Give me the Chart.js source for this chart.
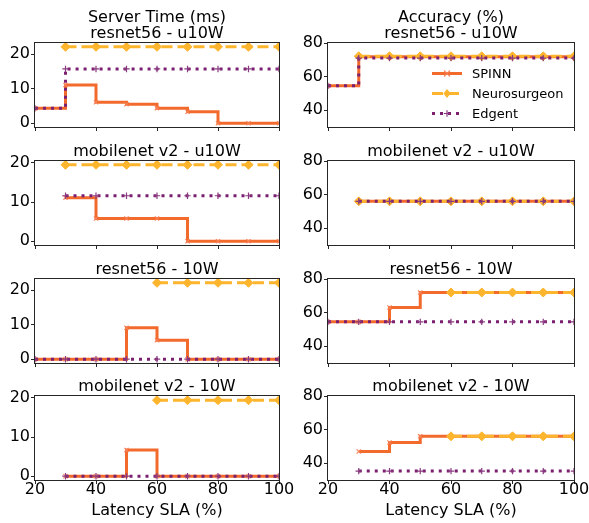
<!DOCTYPE html>
<html>
<head>
<meta charset="utf-8">
<script src="https://cdn.jsdelivr.net/npm/chart.js@4.4.1/dist/chart.umd.min.js"></script>
<style>
html,body{margin:0;padding:0;background:#fff;}
#wrap{position:relative;width:589px;height:523px;overflow:hidden;background:#fff;}
#wrap canvas{position:absolute;}
</style>
</head>
<body>
<div id="wrap"></div>
<script>
// ---------- data ----------
const slaPercent = [20, 30, 40, 50, 60, 70, 80, 90, 100];
const xTickValues = [20, 40, 60, 80, 100];
const serverTimeTicks = [0, 10, 20];
const accuracyTicks = [40, 60, 80];
const seriesNames = ['SPINN', 'Neurosurgeon', 'Edgent'];
const columnTitles = ['Server Time (ms)', 'Accuracy (%)'];
const panelNames = ['resnet56 - u10W', 'mobilenet v2 - u10W', 'resnet56 - 10W', 'mobilenet v2 - 10W'];
const xAxisTitle = 'Latency SLA (%)';

// Server time (ms)
const timeResnet56U10W_SPINN        = [4.3, 11.05, 6.05, 5.5, 4.35, 3.3, 0, 0, 0];
const timeResnet56U10W_Neurosurgeon = [null, 22.1, 22.1, 22.1, 22.1, 22.1, 22.1, 22.1, 22.1];
const timeResnet56U10W_Edgent       = [4.3, 15.7, 15.7, 15.7, 15.7, 15.7, 15.7, 15.7, 15.7];

const timeMobilenetU10W_SPINN        = [null, 11.1, 5.8, 5.8, 5.8, 0, 0, 0, 0];
const timeMobilenetU10W_Neurosurgeon = [null, 19.5, 19.5, 19.5, 19.5, 19.5, 19.5, 19.5, 19.5];
const timeMobilenetU10W_Edgent       = [null, 11.6, 11.6, 11.6, 11.6, 11.6, 11.6, 11.6, 11.6];

const timeResnet5610W_SPINN        = [0, 0, 0, 9.1, 5.5, 0, 0, 0, 0];
const timeResnet5610W_Neurosurgeon = [null, null, null, null, 22.1, 22.1, 22.1, 22.1, 22.1];
const timeResnet5610W_Edgent       = [0, 0, 0, 0, 0, 0, 0, 0, 0];

const timeMobilenet10W_SPINN        = [null, 0, 0, 6.7, 0, 0, 0, 0, 0];
const timeMobilenet10W_Neurosurgeon = [null, null, null, null, 19.4, 19.4, 19.4, 19.4, 19.4];
const timeMobilenet10W_Edgent       = [null, 0, 0, 0, 0, 0, 0, 0, 0];

// Accuracy (%)
const accResnet56U10W_SPINN        = [54.5, 71.8, 71.8, 71.8, 71.8, 71.8, 71.8, 71.8, 71.8];
const accResnet56U10W_Neurosurgeon = [null, 72.1, 72.1, 72.1, 72.1, 72.1, 72.1, 72.1, 72.1];
const accResnet56U10W_Edgent       = [54.5, 71.0, 71.0, 71.0, 71.0, 71.0, 71.0, 71.0, 71.0];

const accMobilenetU10W_SPINN        = [null, 56, 56, 56, 56, 56, 56, 56, 56];
const accMobilenetU10W_Neurosurgeon = [null, 56, 56, 56, 56, 56, 56, 56, 56];
const accMobilenetU10W_Edgent       = [null, 56, 56, 56, 56, 56, 56, 56, 56];

const accResnet5610W_SPINN        = [54.5, 54.5, 63, 72, 72, 72, 72, 72, 72];
const accResnet5610W_Neurosurgeon = [null, null, null, null, 72, 72, 72, 72, 72];
const accResnet5610W_Edgent       = [54.5, 54.5, 54.5, 54.5, 54.5, 54.5, 54.5, 54.5, 54.5];

const accMobilenet10W_SPINN        = [null, 47, 52.3, 56, 56, 56, 56, 56, 56];
const accMobilenet10W_Neurosurgeon = [null, null, null, null, 56, 56, 56, 56, 56];
const accMobilenet10W_Edgent       = [null, 35.3, 35.3, 35.3, 35.3, 35.3, 35.3, 35.3, 35.3];

const timeSeries = [
  [timeResnet56U10W_SPINN, timeResnet56U10W_Neurosurgeon, timeResnet56U10W_Edgent],
  [timeMobilenetU10W_SPINN, timeMobilenetU10W_Neurosurgeon, timeMobilenetU10W_Edgent],
  [timeResnet5610W_SPINN, timeResnet5610W_Neurosurgeon, timeResnet5610W_Edgent],
  [timeMobilenet10W_SPINN, timeMobilenet10W_Neurosurgeon, timeMobilenet10W_Edgent]
];
const accSeries = [
  [accResnet56U10W_SPINN, accResnet56U10W_Neurosurgeon, accResnet56U10W_Edgent],
  [accMobilenetU10W_SPINN, accMobilenetU10W_Neurosurgeon, accMobilenetU10W_Edgent],
  [accResnet5610W_SPINN, accResnet5610W_Neurosurgeon, accResnet5610W_Edgent],
  [accMobilenet10W_SPINN, accMobilenet10W_Neurosurgeon, accMobilenet10W_Edgent]
];

// ---------- styles / layout ----------
const FONT = 'DejaVu Sans';
Chart.defaults.font.family = FONT;
Chart.defaults.color = '#000';

const COLORS = ['#f26a2c', '#fdb52d', '#7b1f70'];
const MARKER_COLORS = ['rgba(247,130,90,0.95)', '#fdb52d', '#8a3a80'];
const STYLES = [
  {dash: [], width: 3, point: 'crossRot', radius: 3, pbw: 1.2, order: 2},
  {dash: [11, 5], width: 3, point: 'rectRot', radius: 4.5, pbw: 1, order: 1},
  {dash: [3, 5], width: 3, point: 'cross', radius: 3.2, pbw: 1.2, order: 0}
];

const chartTops = [43, 161, 279, 396];
const chartBottoms = [127, 245, 363, 480];
const canvasTops = [0, 135, 253, 371];
const canvasHeights = [141, 124, 124, 152];
const colLeft = [0, 295];
const colYAxisW = [35, 33];
const CANVAS_W = 295;
const PAD_RIGHT = 16;
const TITLE_LH = 16;

// ---------- plugins ----------
const frame = {
  id: 'frame',
  afterDatasetsDraw(chart) {
    const {ctx, chartArea: a} = chart;
    ctx.save();
    ctx.strokeStyle = '#262626';
    ctx.lineWidth = 1;
    ctx.setLineDash([]);
    ctx.strokeRect(Math.round(a.left) - 0.5, Math.round(a.top) - 0.5, Math.round(a.right - a.left) + 1, Math.round(a.bottom - a.top) + 1);
    ctx.restore();
  }
};

function drawMarker(ctx, style, x, y, r, color, bw) {
  ctx.save();
  ctx.setLineDash([]);
  ctx.strokeStyle = color;
  ctx.fillStyle = color;
  ctx.lineWidth = bw;
  ctx.beginPath();
  if (style === 'rectRot') {
    ctx.moveTo(x, y - r); ctx.lineTo(x + r * 0.8, y); ctx.lineTo(x, y + r); ctx.lineTo(x - r * 0.8, y); ctx.closePath();
    ctx.fill();
  } else if (style === 'crossRot') {
    ctx.moveTo(x - r, y - r); ctx.lineTo(x + r, y + r); ctx.moveTo(x - r, y + r); ctx.lineTo(x + r, y - r);
    ctx.stroke();
  } else {
    ctx.moveTo(x - r, y); ctx.lineTo(x + r, y); ctx.moveTo(x, y - r); ctx.lineTo(x, y + r);
    ctx.stroke();
  }
  ctx.restore();
}

const insideLegend = {
  id: 'insideLegend',
  afterDraw(chart) {
    const {ctx, chartArea: a} = chart;
    ctx.save();
    chart.data.datasets.forEach((ds, i) => {
      const y = a.top + 30.5 + i * 20;
      const x0 = a.left + 104, x1 = x0 + 30;
      ctx.beginPath();
      ctx.strokeStyle = ds.borderColor;
      ctx.lineWidth = ds.borderWidth;
      ctx.setLineDash(ds.borderDash || []);
      ctx.moveTo(x0, y); ctx.lineTo(x1, y); ctx.stroke();
      ctx.setLineDash([]);
      drawMarker(ctx, ds.pointStyle, (x0 + x1) / 2, y, ds.pointRadius, ds.pointBorderColor, ds.pointBorderWidth);
      ctx.fillStyle = '#000';
      ctx.font = '13px "' + FONT + '"';
      ctx.textAlign = 'left';
      ctx.textBaseline = 'middle';
      ctx.fillText(ds.label, a.left + 144, y + 1);
    });
    ctx.restore();
  }
};

// ---------- build ----------
const wrap = document.getElementById('wrap');

function makeChart(row, col) {
  const cv = document.createElement('canvas');
  const W = CANVAS_W, H = canvasHeights[row];
  cv.width = W; cv.height = H;
  cv.style.left = colLeft[col] + 'px';
  cv.style.top = canvasTops[row] + 'px';
  cv.style.width = W + 'px';
  cv.style.height = H + 'px';
  wrap.appendChild(cv);

  const isTime = col === 0;
  const seriesSet = isTime ? timeSeries[row] : accSeries[row];
  const titleText = row === 0 ? [columnTitles[col], panelNames[row]] : panelNames[row];
  const nLines = row === 0 ? 2 : 1;
  const titleH = nLines * TITLE_LH + 1;
  const padTop = chartTops[row] - canvasTops[row] - titleH;
  const xh = canvasTops[row] + H - chartBottoms[row];
  const isBottom = row === 3;

  let yMin, yMax;
  if (isTime) {
    if (row === 0 || row === 2) { yMin = -1.1; yMax = 23.2; }
    else { yMin = -0.975; yMax = 20.475; }
  } else { yMin = 30; yMax = 80; }
  const yTicks = isTime ? serverTimeTicks : accuracyTicks;

  const datasets = seriesSet.map((vals, i) => ({
    label: seriesNames[i],
    data: slaPercent.map((x, k) => ({x: x, y: vals[k]})),
    stepped: 'before',
    borderColor: COLORS[i],
    backgroundColor: COLORS[i],
    borderWidth: STYLES[i].width,
    borderDash: STYLES[i].dash,
    borderCapStyle: 'butt',
    pointStyle: STYLES[i].point,
    pointRadius: STYLES[i].radius,
    pointBorderWidth: STYLES[i].pbw,
    pointBorderColor: MARKER_COLORS[i],
    pointBackgroundColor: MARKER_COLORS[i],
    spanGaps: false,
    fill: false,
    order: STYLES[i].order
  }));

  const plugins = [frame];
  if (row === 0 && col === 1) plugins.push(insideLegend);

  new Chart(cv, {
    type: 'line',
    data: {datasets},
    plugins,
    options: {
      responsive: false,
      animation: false,
      events: [],
      devicePixelRatio: 1,
      layout: {padding: {top: padTop, right: PAD_RIGHT, bottom: 0, left: 0}},
      plugins: {
        legend: {display: false},
        tooltip: {enabled: false},
        title: {
          display: true,
          text: titleText,
          fullSize: false,
          color: '#000',
          font: {family: FONT, size: 16, weight: 'normal', lineHeight: 1},
          padding: {top: 0, bottom: 1}
        }
      },
      scales: {
        x: {
          type: 'linear',
          min: 20, max: 100,
          border: {display: false},
          grid: {drawOnChartArea: false, drawTicks: true, tickLength: 4, color: '#262626', lineWidth: 1},
          ticks: {display: isBottom, font: {family: FONT, size: 16, lineHeight: 1}, padding: -2, color: '#000', maxRotation: 0, autoSkip: false},
          afterBuildTicks: (s) => { s.ticks = xTickValues.map(v => ({value: v})); },
          afterFit: (s) => { s.height = xh; },
          title: {
            display: isBottom,
            text: xAxisTitle,
            color: '#000',
            font: {family: FONT, size: 16, lineHeight: 1},
            padding: {top: 0, bottom: 4}
          }
        },
        y: {
          type: 'linear',
          min: yMin, max: yMax,
          border: {display: false},
          grid: {drawOnChartArea: false, drawTicks: true, tickLength: 4, color: '#262626', lineWidth: 1},
          ticks: {font: {family: FONT, size: 16, lineHeight: 1}, padding: 1, color: '#000', autoSkip: false},
          afterBuildTicks: (s) => { s.ticks = yTicks.map(v => ({value: v})); },
          afterFit: (s) => { s.width = colYAxisW[col]; }
        }
      }
    }
  });
}

for (let r = 0; r < 4; r++) {
  for (let c = 0; c < 2; c++) makeChart(r, c);
}
</script>
</body>
</html>
